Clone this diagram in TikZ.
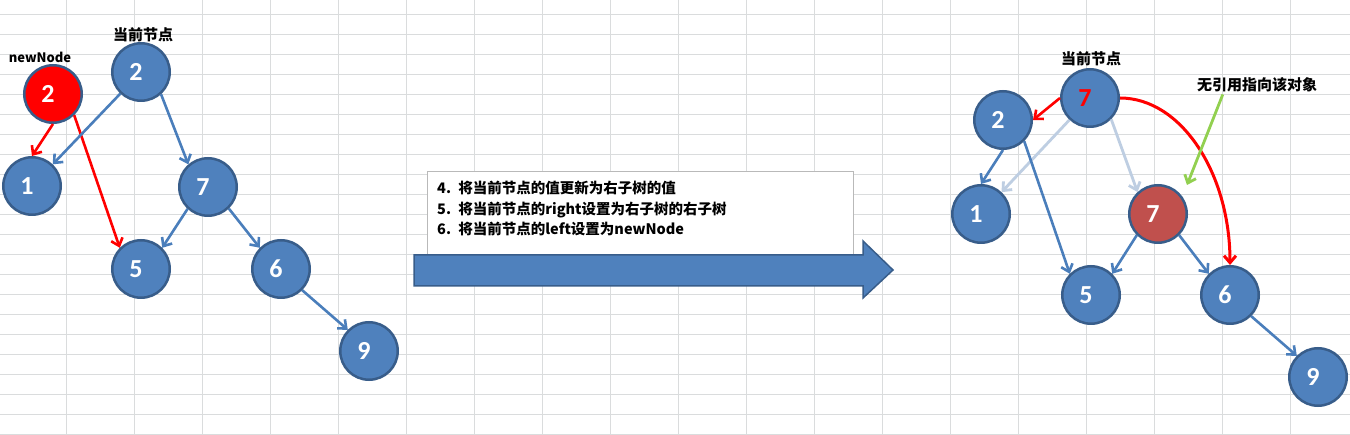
\documentclass[tikz,border=0pt]{standalone}
\usepackage{fontspec}
\setmainfont{Carlito}
\newfontfamily\cjk{Noto Sans CJK SC}
\usetikzlibrary{calc,arrows.meta}
\definecolor{nodeblue}{RGB}{79,129,189}
\definecolor{edgeblue}{RGB}{74,126,187}
\definecolor{rimblue}{RGB}{56,93,138}
\definecolor{fadeblue}{RGB}{190,206,226}
\definecolor{brick}{RGB}{192,80,77}
\definecolor{leafgreen}{RGB}{146,208,80}
\definecolor{gridgray}{RGB}{218,220,221}
\tikzset{%
  >={Straight Barb[length=7pt,width=12pt]}, % open arrow heads
  x=1pt,y=-1pt,% pixel grid, y going down
  tree node/.style={circle,draw=rimblue,line width=2.5pt,fill=nodeblue,
    minimum size=57.5pt,inner sep=0pt,text=white,
    font=\bfseries\fontsize{26}{26}\selectfont,
    execute at begin node=\hspace*{-10pt}},
  link/.style={->,draw=edgeblue,line width=2.6pt},
  fadelink/.style={->,draw=fadeblue,line width=2.8pt},
  redlink/.style={->,draw=red,line width=2.6pt},
  caption/.style={font=\cjk\bfseries\fontsize{15}{15}\selectfont,inner sep=1pt},
  gridline/.style={draw=gridgray,line width=1pt}%
}
\begin{document}
\begin{tikzpicture}
\useasboundingbox (0,0) rectangle (1350,435);
\fill[white] (0,0) rectangle (1350,435);
% sheet grid
\foreach \gx in {66,134,...,1290} { \draw[gridline] (\gx,0) -- (\gx,435); }
\foreach \gy in {15,35,...,435} { \draw[gridline] (0,\gy) -- (1350,\gy); }

% step text and big arrow
\filldraw[fill=white,draw=gray!55,line width=1pt] (427,172) rectangle (853,262);
\node[anchor=north west,inner sep=0pt,text width=406pt,align=left,
  font=\cjk\bfseries\fontsize{14.5}{20.5}\selectfont] (Steps) at (437,181)
  {4. 将当前节点的值更新为右子树的值\\
   5. 将当前节点的right设置为右子树的右子树\\
   6. 将当前节点的left设置为newNode};
\filldraw[fill=nodeblue,draw=rimblue,line width=1.5pt]
  (414,255) -- (863,255) -- (863,241) -- (893,270) -- (863,298) -- (863,286)
  -- (414,286) -- cycle;

% tree before
\node[tree node,fill=red] (New) at (53,94) {2};
\node[tree node] (Cur) at (141,72) {2};
\node[tree node] (N1) at (32,186) {1};
\node[tree node] (N7) at (208,187) {7};
\node[tree node] (N5) at (141,269) {5};
\node[tree node] (N6) at (281,269) {6};
\node[tree node] (N9) at (369,351) {9};
\node[caption,font=\cjk\bfseries\fontsize{13}{13}\selectfont] (NewLbl) at (40,57) {newNode};
\node[caption] (CurLbl) at (143,35) {当前节点};

\draw[redlink] (New.south) -- (N1.north);
\draw[redlink] (New.-45) -- (N5.135);
\draw[link] (Cur) -- (N1);
\draw[link] (Cur.-48) -- (N7.131);
\draw[link] (N7.-133) -- (N5.45);
\draw[link] (N7.-46) -- (N6.135);
\draw[link] (N6.-45) -- (N9.135);

% tree after
\node[tree node,text=red] (RCur) at (1090,98) {7};
\node[tree node] (R2) at (1003,120) {2};
\node[tree node] (R1) at (981,214) {1};
\node[tree node,fill=brick] (R7) at (1158,214) {7};
\node[tree node] (R5) at (1091,295) {5};
\node[tree node] (R6) at (1230,295) {6};
\node[tree node] (R9) at (1318,377) {9};
\node[caption] (RCurLbl) at (1091,59) {当前节点};
\node[caption] (Note) at (1257,85) {无引用指向该对象};
\coordinate (Orphan) at (1187,185);

\draw[redlink] (RCur.west) -- (R2.east);
\draw[fadelink] (RCur) -- (R1);
\draw[fadelink] (RCur.-45) -- (R7.133);
\draw[link] (R2.south) -- (R1.north);
\draw[link] (R2.-45) -- (R5.135);
\draw[link] (R7.-135) -- (R5.45);
\draw[link] (R7.-45) -- (R6.135);
\draw[link] (R6.-45) -- (R9.135);
\draw[redlink,line width=3pt] (RCur.east) .. controls +(61,0) and +(0,-92) .. (R6.north);
\draw[->,draw=leafgreen,line width=2.8pt] ($(Note.south west)+(27,1)$) -- (Orphan);

\end{tikzpicture}
\end{document}
